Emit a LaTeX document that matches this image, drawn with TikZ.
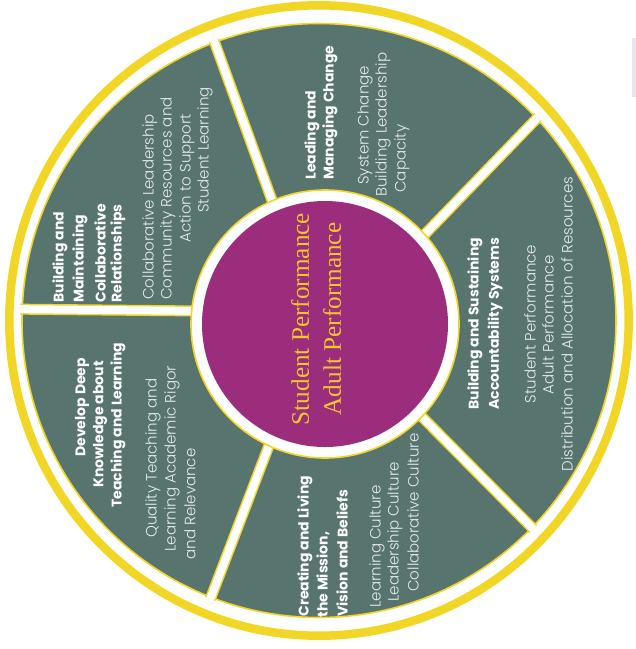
\documentclass[tikz,border=0pt]{standalone}
\usepackage{fontspec}
\setmainfont{Poppins}
\newfontfamily\lightfont{Poppins Light}
\newfontfamily\hubfont{Liberation Serif}
\definecolor{ringyellow}{RGB}{242,214,38}
\definecolor{wedgegreen}{RGB}{88,116,111}
\definecolor{hubmagenta}{RGB}{156,44,124}
\definecolor{hubtext}{RGB}{240,200,40}
\definecolor{bodywhite}{RGB}{230,236,233}
\definecolor{pagetint}{RGB}{232,228,240}
\begin{document}
\begin{tikzpicture}[x=0.5pt,y=0.5pt,
  headline/.style={rotate=90,anchor=west,inner sep=0pt,text=white,
    font=\fontsize{7}{9}\selectfont\bfseries},
  bodyline/.style={rotate=90,anchor=west,inner sep=0pt,text=bodywhite,
    font=\lightfont\fontsize{7.5}{9}\selectfont},
  bodymid/.style={bodyline,anchor=center},
  gapedge/.style={ringyellow,line width=5.5pt},
  gapfill/.style={white,line width=4pt}]
\useasboundingbox (0,0) rectangle (636,-649);

% centres of the outer ring and of the hub
\coordinate (ringc) at (319,-320.5);
\coordinate (hubc) at (325,-324);

% faint tint at the right margin
\fill[pagetint] (632,-38) rectangle (636,-97);

% outer yellow ring
\draw[ringyellow,line width=4.25pt] (ringc) ellipse[x radius=309.7,y radius=315.2];

% green disc that carries the five wedges
\filldraw[fill=wedgegreen,draw=ringyellow,line width=0.8pt] (ringc) circle[radius=297];

% radial gaps between the wedges
\coordinate (d1in)  at (200,-311);   \coordinate (d1out) at (5,-309);
\coordinate (d2in)  at (290,-250);   \coordinate (d2out) at (200,-2);
\coordinate (d3in)  at (370,-291);   \coordinate (d3out) at (572,-82);
\coordinate (d4in)  at (369,-363.5); \coordinate (d4out) at (571,-567);
\coordinate (d5in)  at (296.5,-373.5); \coordinate (d5out) at (199.6,-627);
\begin{scope}
  \clip (ringc) circle[radius=299];
  \foreach \g in {1,...,5} {
    \draw[gapedge] (d\g in) -- (d\g out);
  }
  \foreach \g in {1,...,5} {
    \draw[gapfill] (d\g in) -- (d\g out);
  }
\end{scope}

% hub
\filldraw[fill=white,draw=ringyellow,line width=0.8pt] (hubc) circle[radius=134];
\fill[hubmagenta] (hubc) circle[radius=123];
\node[rotate=90,align=center,text=hubtext,inner sep=0pt,
  font=\hubfont\fontsize{12.6}{16}\selectfont] (hub) at (316,-319)
  {Student Performance\\Adult Performance};

% wedge: collaborative relationships
\node[headline] (a1) at (60,-303)  {Building and};
\node[headline] (a2) at (80,-303)  {Maintaining};
\node[headline] (a3) at (100,-303) {Collaborative};
\node[headline] (a4) at (118,-303) {Relationships};
\node[bodyline] (a5) at (150,-300) {Collaborative Leadership};
\node[bodyline] (a6) at (168,-300) {Community Resources and};
\node[bodyline] (a7) at (187,-243) {Action to Support};
\node[bodyline] (a8) at (205,-213) {Student Learning};

% wedge: leading and managing change
\node[headline] (b1) at (312,-180) {Leading and};
\node[headline] (b2) at (330,-180) {Managing Change};
\node[bodyline] (b3) at (365,-185) {System Change};
\node[bodyline] (b4) at (383,-197) {Building Leadership};
\node[bodyline] (b5) at (402,-193) {Capacity};

% wedge: accountability systems
\node[headline] (c1) at (475,-410) {Building and Sustaining};
\node[headline] (c2) at (495,-410) {Accountability Systems};
\node[bodymid] (c3) at (530,-324) {Student Performance};
\node[bodymid] (c4) at (548,-325) {Adult Performance};
\node[bodymid] (c5) at (567,-324) {Distribution and Allocation of Resources};

% wedge: mission, vision and beliefs
\node[headline] (m1) at (305,-617) {Creating and Living};
\node[headline] (m2) at (323,-618) {the Mission,};
\node[headline] (m3) at (342,-617) {Vision and Beliefs};
\node[bodyline] (m4) at (377,-608) {Learning Culture};
\node[bodyline] (m5) at (395,-602) {Leadership Culture};
\node[bodyline] (m6) at (413,-592) {Collaborative Culture};

% wedge: teaching and learning
\node[headline] (t1) at (82,-457)  {Develop Deep};
\node[headline] (t2) at (100,-488) {Knowledge about};
\node[headline] (t3) at (118,-508) {Teaching and Learning};
\node[bodyline] (t4) at (153,-538) {Quality Teaching and};
\node[bodyline] (t5) at (172,-552) {Learning Academic Rigor};
\node[bodyline] (t6) at (190,-560) {and Relevance};
\end{tikzpicture}
\end{document}
